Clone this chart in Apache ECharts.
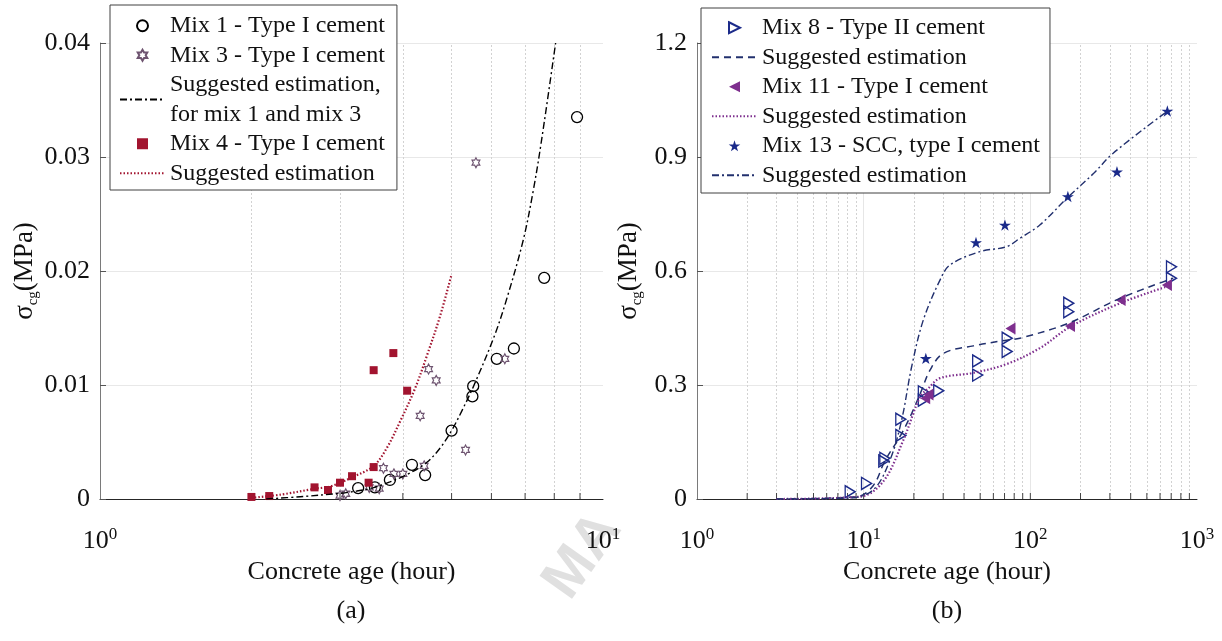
<!DOCTYPE html>
<html><head><meta charset="utf-8">
<script src="https://cdn.jsdelivr.net/npm/echarts@6/dist/echarts.min.js"></script>
<style>html,body{margin:0;padding:0;background:#fff}#c{width:1222px;height:641px}</style>
</head><body><div id="c"></div>
<script>
// ---------- Panel (a) data ----------
const mix1X = [3.26, 3.52, 3.77, 4.17, 4.43, 5.0, 5.5, 5.52, 6.15, 6.65, 7.64, 8.88];
const mix1Y = [0.00096, 0.00102, 0.00167, 0.0030, 0.0021, 0.0060, 0.0090, 0.0099, 0.0123, 0.0132, 0.0194, 0.0335];
const mix3X = [3.0, 3.08, 3.43, 3.59, 3.66, 3.84, 4.0, 4.33, 4.41, 4.50, 4.66, 5.33, 6.38, 5.59];
const mix3Y = [0.0003, 0.00046, 0.00102, 0.0009, 0.0027, 0.0022, 0.0022, 0.0073, 0.0029, 0.0114, 0.0104, 0.0043, 0.0123, 0.0295];
const mix4X = [2.0, 2.17, 2.67, 2.84, 3.0, 3.17, 3.42, 3.50, 3.50, 3.83, 4.08];
const mix4Y = [0.00018, 0.00026, 0.00102, 0.00079, 0.00143, 0.0020, 0.00143, 0.0113, 0.0028, 0.0128, 0.0095];
const fitA13X = [2.14, 2.5, 3.0, 3.24, 3.5, 3.77, 4.1, 4.46, 4.75, 5.0, 5.25, 5.53, 6.07, 6.43, 6.94, 7.27, 7.55, 8.05];
const fitA13Y = [0, 0.0002, 0.0005, 0.0007, 0.001, 0.0015, 0.0022, 0.0032, 0.0045, 0.006, 0.0078, 0.0099, 0.0142, 0.0175, 0.0227, 0.0271, 0.0315, 0.0400];
const fitA4X = [2.0, 2.3, 2.67, 2.87, 3.17, 3.5, 3.72, 3.95, 4.23, 4.46, 4.74, 5.0];
const fitA4Y = [0.0001, 0.0004, 0.0009, 0.0011, 0.0019, 0.0029, 0.0045, 0.0068, 0.0097, 0.0125, 0.0160, 0.0197];
const yTicksA = [0, 0.01, 0.02, 0.03, 0.04];
const minorA = [2, 3, 4, 5, 6, 7, 8, 9];

// ---------- Panel (b) data ----------
const mix8X = [8.3, 10.4, 13.2, 13.4, 16.7, 16.7, 22.8, 22.8, 28.2, 48.3, 48.3, 72.6, 72.6, 170, 170, 703, 703];
const mix8Y = [0.019, 0.041, 0.100, 0.107, 0.210, 0.167, 0.282, 0.260, 0.285, 0.363, 0.326, 0.423, 0.388, 0.515, 0.493, 0.611, 0.581];
const mix11X = [23.4, 24.5, 76, 173, 348, 660];
const mix11Y = [0.265, 0.275, 0.449, 0.455, 0.524, 0.563];
const mix13X = [23.6, 47.2, 70.4, 168, 331, 664];
const mix13Y = [0.370, 0.675, 0.721, 0.796, 0.861, 1.021];
const fitB8X = [3, 9.1, 11.4, 13.4, 16.7, 19.4, 22.3, 25, 30, 45.5, 72, 86.6, 168, 345, 720];
const fitB8Y = [0, 0.006, 0.035, 0.10, 0.168, 0.225, 0.287, 0.339, 0.383, 0.403, 0.418, 0.423, 0.462, 0.528, 0.581];
const fitB11X = [3, 9.5, 13.1, 17.3, 21.8, 24.4, 28.7, 45.5, 72, 114, 173, 345, 657];
const fitB11Y = [0, 0.006, 0.046, 0.155, 0.269, 0.291, 0.318, 0.332, 0.355, 0.397, 0.453, 0.515, 0.559];
const fitB13X = [3, 8, 11.4, 14.4, 16.9, 19.4, 22.8, 28.7, 33, 49.9, 72, 86.6, 114, 168, 240, 314, 657];
const fitB13Y = [0, 0.002, 0.024, 0.103, 0.208, 0.348, 0.471, 0.576, 0.616, 0.651, 0.664, 0.686, 0.721, 0.794, 0.857, 0.91, 1.019];
const yTicksB = [0, 0.3, 0.6, 0.9, 1.2];
const minorB = [2,3,4,5,6,7,8,9,20,30,40,50,60,70,80,90,200,300,400,500,600,700,800,900];
const majorB = [10, 100];

const FONT = 'Liberation Serif';
const zip = (xs, ys) => xs.map((x, i) => [x, ys[i]]);

const HEX = 'path://M0,-10 L2.887,-5 L8.66,-5 L5.774,0 L8.66,5 L2.887,5 L0,10 L-2.887,5 L-8.66,5 L-5.774,0 L-8.66,-5 L-2.887,-5 Z';
const STAR = 'path://M0,-10 L2.245,-3.09 L9.511,-3.09 L3.633,1.18 L5.878,8.09 L0,3.82 L-5.878,8.09 L-3.633,1.18 L-9.511,-3.09 L-2.245,-3.09 Z';
const TRI_R = 'path://M0,0 L10,5 L0,10 Z';
const TRI_L = 'path://M10,0 L0,5 L10,10 Z';
const SQ = 'path://M0,0 L10,0 L10,10 L0,10 Z';
const NOSYM = { color: 'rgba(0,0,0,0)', borderWidth: 0, opacity: 0 };

const C_RED = '#a2142f', C_PUR = '#7e2f8e', C_NAVY = '#1c2b8a', C_NAVY2 = '#22306e';

function xAxisCfg(idx, max, showSplit) {
  return {
    type: 'log', logBase: 10, min: 1, max: max, gridIndex: idx,
    name: 'Concrete age (hour)', nameLocation: 'middle', nameGap: 52,
    nameTextStyle: { fontFamily: FONT, fontSize: 26, color: '#111' },
    axisLine: { show: true, onZero: false, lineStyle: { color: '#262626', width: 1 } },
    axisTick: { show: false },
    splitLine: { show: showSplit, showMinLine: false, showMaxLine: false, lineStyle: { color: '#e6e6e6', width: 1 } },
    axisLabel: {
      margin: 27,
      formatter: v => '{b|10}{s|' + Math.round(Math.log10(v)) + '}',
      rich: {
        b: { fontFamily: FONT, fontSize: 26, color: '#111', lineHeight: 30 },
        s: { fontFamily: FONT, fontSize: 17, color: '#111', verticalAlign: 'top', lineHeight: 16 }
      }
    }
  };
}
function yAxisCfg(idx, max, interval, dec) {
  return {
    type: 'value', min: 0, max: max, interval: interval, gridIndex: idx,
    name: '{a|σ}{b|cg}{a|(MPa)}', nameLocation: 'middle', nameRotate: 90, nameGap: 52,
    nameTextStyle: {
      rich: {
        a: { fontFamily: FONT, fontSize: 27, color: '#111', lineHeight: 32 },
        b: { fontFamily: FONT, fontSize: 15, color: '#111', verticalAlign: 'bottom', lineHeight: 14 }
      }
    },
    axisLine: { show: true, lineStyle: { color: '#7a7a7a', width: 1 } },
    axisTick: { show: true, inside: true, length: 6, lineStyle: { color: '#555' } },
    splitLine: { show: true, lineStyle: { color: '#e8e8e8', width: 1 } },
    axisLabel: {
      margin: 10, fontFamily: FONT, fontSize: 26, color: '#111',
      formatter: v => v === 0 ? '0' : v.toFixed(dec)
    }
  };
}
function minorGrid(xi, xs) {
  return {
    type: 'line', xAxisIndex: xi, yAxisIndex: xi, data: [], silent: true, z: 0,
    markLine: { silent: true, symbol: 'none', label: { show: false }, animation: false, z: 0,
      lineStyle: { color: '#d2d2d2', type: [2, 2], width: 1 },
      data: xs.map(v => ({ xAxis: v })) }
  };
}
function tickMarks(xi, xs) {
  return {
    type: 'scatter', xAxisIndex: xi, yAxisIndex: xi, silent: true, clip: false,
    symbol: 'rect', symbolSize: [1, 6], symbolOffset: [0, -3],
    itemStyle: { color: '#444', opacity: 1 }, data: xs.map(v => [v, 0]), z: 1
  };
}
function lineSeries(name, xi, xs, ys, color, width, type) {
  return { name: name, type: 'line', xAxisIndex: xi, yAxisIndex: xi,
    data: zip(xs, ys), symbol: 'none', showSymbol: false, smooth: 0.35,
    lineStyle: { color: color, width: width, type: type }, itemStyle: NOSYM };
}

const legendBase = {
  orient: 'vertical', itemWidth: 45, itemHeight: 11, itemGap: 0, z: 20,
  formatter: n => n.replace(/#\d+$/, ''),
  textStyle: { fontFamily: FONT, fontSize: 24, color: '#111', lineHeight: 29.5 },
  borderColor: '#404040', borderWidth: 1, backgroundColor: '#fff', selectedMode: false
};

const option = {
  animation: false,
  backgroundColor: '#fff',
  grid: [
    { left: 100, top: 43, width: 503, height: 456 },
    { left: 697, top: 43, width: 500, height: 456 }
  ],
  xAxis: [xAxisCfg(0, 10, false), xAxisCfg(1, 1000, true)],
  yAxis: [yAxisCfg(0, 0.04, 0.01, 2), yAxisCfg(1, 1.2, 0.3, 1)],
  legend: [
    Object.assign({}, legendBase, {
      data: ['Mix 1 - Type I cement', 'Mix 3 - Type I cement', 'Suggested estimation,\nfor mix 1 and mix 3', 'Mix 4 - Type I cement', 'Suggested estimation#1'],
      left: 110, top: 5, padding: [6, 12, 2, 9]
    }),
    Object.assign({}, legendBase, {
      data: ['Mix 8 - Type II cement', 'Suggested estimation#2', 'Mix 11 - Type I cement', 'Suggested estimation#3', 'Mix 13 - SCC, type I cement', 'Suggested estimation#4'],
      left: 701, top: 8, padding: [5, 10, 3, 10]
    })
  ],
  series: [
    minorGrid(0, minorA), tickMarks(0, minorA),
    minorGrid(1, minorB), tickMarks(1, minorB.concat(majorB)),
    lineSeries('Suggested estimation,\nfor mix 1 and mix 3', 0, fitA13X, fitA13Y, '#000', 1.4, [7, 3, 2, 3]),
    lineSeries('Suggested estimation#1', 0, fitA4X, fitA4Y, C_RED, 2.2, [1.5, 2]),
    { name: 'Mix 1 - Type I cement', type: 'scatter', xAxisIndex: 0, yAxisIndex: 0,
      data: zip(mix1X, mix1Y), symbol: 'circle', symbolSize: 11,
      itemStyle: { color: 'rgba(255,255,255,0)', borderColor: '#000', borderWidth: 1.3, opacity: 1 } },
    { name: 'Mix 3 - Type I cement', type: 'scatter', xAxisIndex: 0, yAxisIndex: 0,
      data: zip(mix3X, mix3Y), symbol: HEX, symbolSize: [9, 10], symbolKeepAspect: true,
      itemStyle: { color: 'rgba(255,255,255,0)', borderColor: '#6e5470', borderWidth: 1.2, opacity: 1 } },
    { name: 'Mix 4 - Type I cement', type: 'scatter', xAxisIndex: 0, yAxisIndex: 0,
      data: zip(mix4X, mix4Y), symbol: SQ, symbolSize: 8, symbolKeepAspect: true,
      itemStyle: { color: C_RED, opacity: 1 } },

    lineSeries('Suggested estimation#2', 1, fitB8X, fitB8Y, C_NAVY2, 1.5, [7, 5]),
    lineSeries('Suggested estimation#3', 1, fitB11X, fitB11Y, C_PUR, 2.2, [1.5, 2]),
    lineSeries('Suggested estimation#4', 1, fitB13X, fitB13Y, C_NAVY2, 1.4, [7, 3, 2, 3]),
    { name: 'Mix 8 - Type II cement', type: 'scatter', xAxisIndex: 1, yAxisIndex: 1,
      data: zip(mix8X, mix8Y), symbol: TRI_R, symbolSize: [10, 12], symbolKeepAspect: true,
      itemStyle: { color: 'rgba(255,255,255,0)', borderColor: C_NAVY, borderWidth: 1.4, opacity: 1 } },
    { name: 'Mix 11 - Type I cement', type: 'scatter', xAxisIndex: 1, yAxisIndex: 1,
      data: zip(mix11X, mix11Y), symbol: TRI_L, symbolSize: [10, 12], symbolKeepAspect: true,
      itemStyle: { color: C_PUR, opacity: 1 } },
    { name: 'Mix 13 - SCC, type I cement', type: 'scatter', xAxisIndex: 1, yAxisIndex: 1,
      data: zip(mix13X, mix13Y), symbol: STAR, symbolSize: 12, symbolKeepAspect: true,
      itemStyle: { color: '#1a2a8a', opacity: 1 } }
  ],
  graphic: [
    { type: 'text', x: 351, y: 611, style: { text: '(a)', font: '26px "Liberation Serif"', fill: '#111', align: 'center', verticalAlign: 'middle' } },
    { type: 'text', x: 947, y: 611, style: { text: '(b)', font: '26px "Liberation Serif"', fill: '#111', align: 'center', verticalAlign: 'middle' } },
    { type: 'text', x: 583, y: 556, rotation: 0.95, z: -1,
      style: { text: 'MA', font: 'bold 58px "Liberation Sans"', fill: '#e0e0e0', align: 'center', verticalAlign: 'middle' } }
  ]
};
const chart = echarts.init(document.getElementById('c'), null, { renderer: 'canvas' });
chart.setOption(option);
</script></body></html>
